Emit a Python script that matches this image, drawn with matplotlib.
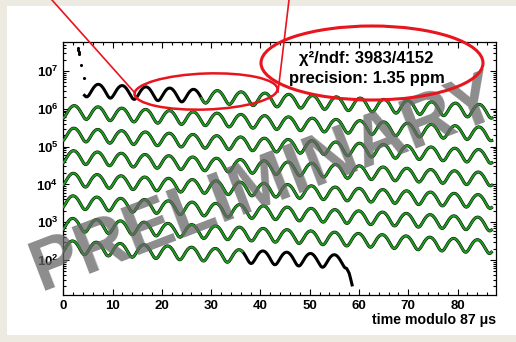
import numpy as np
import matplotlib
matplotlib.use("Agg")
import matplotlib.pyplot as plt
from matplotlib.patches import Ellipse, Rectangle
from matplotlib.lines import Line2D
from matplotlib.ticker import LogLocator, MultipleLocator, FixedLocator, FixedFormatter, NullFormatter

plt.rcParams['font.family'] = ['Liberation Sans', 'DejaVu Sans']
plt.rcParams['font.weight'] = 'bold'
plt.rcParams['mathtext.fontset'] = 'custom'
plt.rcParams['mathtext.rm'] = 'Liberation Sans:bold'
plt.rcParams['mathtext.it'] = 'Liberation Sans:bold'
plt.rcParams['mathtext.default'] = 'rm'

# fit parameters
n0 = 3.6e6        # counts at t = 0
tau = 63.3        # dilated muon lifetime, us
asym = 0.38       # wiggle asymmetry
period = 4.83     # wiggle period, us
t_peak = 2.3      # first maximum, us
modulo = 87.0     # wrap time, us
n_rows = 8

bin_width = 0.1492
data_start = 4.3
data_stop = 666.2
fit_start = 28.0
fit_stop = 645.4

# early points above the wiggle (before the fit window)
early_t = [2.9, 3.0, 3.1, 3.2, 3.6, 4.1]
early_n = [4.1e7, 3.6e7, 3.2e7, 2.9e7, 1.4e7, 6.4e6]
# drop of the last bins, absolute time
tail_t = [666.5, 667.0, 667.3, 667.6]
tail_n = [60, 45, 32, 22]

xticks = [0, 10, 20, 30, 40, 50, 60, 70, 80]
yticks = [1e2, 1e3, 1e4, 1e5, 1e6, 1e7]
ytick_labels = ['$10^{2}$', '$10^{3}$', '$10^{4}$', '$10^{5}$', '$10^{6}$', '$10^{7}$']

fit_text = ['\u03c7\u00b2/ndf: 3983/4152', 'precision: 1.35 ppm']

green = '#1f9a1f'
red = '#e8141e'
W, H = 516, 342


def wiggle(t):
    return n0 * np.exp(-t / tau) * (1 + asym * np.cos(2 * np.pi * (t - t_peak) / period))


fig = plt.figure(figsize=(W / 100, H / 100), dpi=100)
fig.patch.set_facecolor('#edeae2')
fig.add_artist(Rectangle((7 / W, 7 / H), 1 - 7 / W, 1 - 13 / H, transform=fig.transFigure,
                         facecolor='white', edgecolor='none', zorder=0))

ax = fig.add_axes([63.3 / W, (H - 295) / H, (496 - 63.3) / W, (295 - 41.7) / H])
ax.set_yscale('log')

t_data = np.arange(data_start, data_stop, bin_width)
n_data = wiggle(t_data)
t_data = np.concatenate([t_data, tail_t])
n_data = np.concatenate([n_data, tail_n])
t_fit = np.arange(fit_start, fit_stop, 0.05)
n_fit = wiggle(t_fit)

for k in range(n_rows):
    lo, hi = k * modulo, (k + 1) * modulo
    m = (t_data >= lo) & (t_data < hi)
    ax.plot(t_data[m] - lo, n_data[m], color='black', lw=2.2, zorder=2)
    m = (t_fit >= lo) & (t_fit < hi)
    if m.any():
        ax.plot(t_fit[m] - lo, n_fit[m], color=green, lw=1.5, zorder=3)

ax.plot(early_t, early_n, 'k.', ms=2.5, zorder=2)

ax.set_xlim(0, 87.8)
ax.set_ylim(11.9, 5.96e7)

ax.xaxis.set_major_locator(FixedLocator(xticks))
ax.xaxis.set_minor_locator(MultipleLocator(2))
ax.yaxis.set_major_locator(FixedLocator(yticks))
ax.yaxis.set_major_formatter(FixedFormatter(ytick_labels))
ax.yaxis.set_minor_locator(LogLocator(base=10, subs=np.arange(2, 10)))
ax.yaxis.set_minor_formatter(NullFormatter())
ax.tick_params(which='both', direction='in', top=True, right=True, width=0.8, labelsize=9.5)
ax.tick_params(which='major', length=4.5, pad=3.5)
ax.tick_params(which='minor', length=2.2)
for s in ax.spines.values():
    s.set_linewidth(0.9)

ax.set_xlabel('time modulo 87 \u03bcs', loc='right', fontsize=10.2, fontweight='bold', labelpad=1.0)

# fit result box
fig.text(366 / W, (H - 58) / H, fit_text[0], ha='center', va='center', fontsize=12, fontweight='bold')
fig.text(367 / W, (H - 78) / H, fit_text[1], ha='center', va='center', fontsize=12, fontweight='bold')

# watermark
fig.text(265 / W, (H - 184) / H, 'PRELIMINARY', ha='center', va='center', rotation=21,
         rotation_mode='anchor', fontsize=52, fontweight='bold', color='#666666', alpha=0.75, zorder=5)

# red annotations (pixel positions, converted to inches)
tr = fig.dpi_scale_trans
fig.add_artist(Ellipse((206 / 100, (H - 91.5) / 100), 143 / 100, 36 / 100, angle=2,
                       transform=tr, fill=False, edgecolor=red, lw=1.8, zorder=6))
fig.add_artist(Ellipse((372 / 100, (H - 63) / 100), 222 / 100, 74 / 100,
                       transform=tr, fill=False, edgecolor=red, lw=2.2, zorder=6))
fig.add_artist(Line2D([52 / 100, 135 / 100], [H / 100, (H - 93) / 100], transform=tr,
                      color=red, lw=1.2, zorder=6))
fig.add_artist(Line2D([289 / 100, 278 / 100], [H / 100, (H - 92) / 100], transform=tr,
                      color=red, lw=1.2, zorder=6))

fig.savefig('out.png', dpi=100, facecolor=fig.get_facecolor())
